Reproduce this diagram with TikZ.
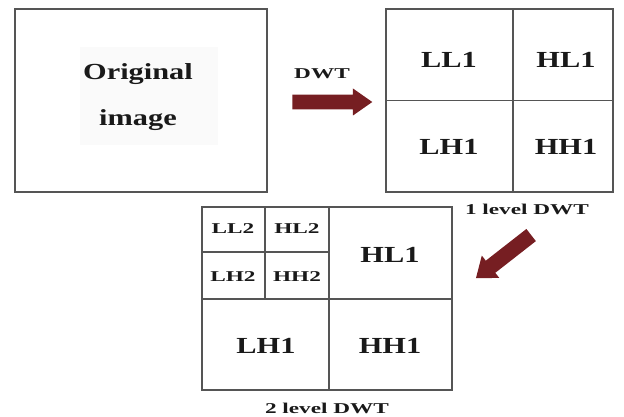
\documentclass[tikz,border=0pt]{standalone}
\usepackage{fontspec}
\setmainfont{Liberation Serif}
\newfontfamily\bigfam[FakeStretch=1.32]{Liberation Serif}
\newfontfamily\smallfam[FakeStretch=1.55]{Liberation Serif}
\usetikzlibrary{shapes.arrows}
\definecolor{maroon}{RGB}{118,30,34}
\definecolor{edge}{RGB}{85,85,85}
\tikzset{
  box/.style={draw=edge, line width=1.4pt, inner sep=0pt},
  grid/.style={draw=edge, line width=1.4pt},
  biglab/.style={font=\bigfam\bfseries\fontsize{23}{25}\selectfont, text=black!90, inner sep=0pt},
  smalllab/.style={font=\smallfam\bfseries\fontsize{15}{17}\selectfont, text=black!90, inner sep=0pt},
  blockarrow/.style={single arrow, fill=maroon, draw=none, single arrow head indent=0pt},
}
\begin{document}
\begin{tikzpicture}[x=1pt,y=-1pt]
\useasboundingbox (0,0) rectangle (624,417);
% original image
\node[box, minimum width=252pt, minimum height=183pt] (orig) at (141,100.5) {};
\node[fill=black!2, minimum width=138pt, minimum height=98pt, inner sep=0pt] (origbg) at (149,96) {};
\node[biglab] (origA) at (138,74) {Original};
\node[biglab] (origB) at (138,120) {image};
% DWT arrow
\node[smalllab] (dwt) at (322,74) {DWT};
\node[blockarrow, minimum height=80pt, minimum width=27pt, inner sep=7pt,
      single arrow head extend=6pt, single arrow tip angle=70] (arr1) at (327,102) {};
% 1 level DWT
\node[box, minimum width=227pt, minimum height=183pt] (one) at (499.5,100.5) {};
\coordinate (oneV) at (513,0);
\draw[grid] (one.north -| oneV) -- (one.south -| oneV);
\draw[grid] (one.west) -- (one.east);
\node[biglab] (LLa) at (449,60) {LL1};
\node[biglab] (HLa) at (566,60) {HL1};
\node[biglab] (LHa) at (449,147) {LH1};
\node[biglab] (HHa) at (566,147) {HH1};
\node[smalllab] (onelab) at (527,209) {1 level DWT};
% diagonal arrow
\node[blockarrow, rotate=218, minimum height=70pt, minimum width=28pt, inner sep=7.5pt,
      single arrow head extend=6.5pt, single arrow tip angle=75] (arr2) at (507.5,253.5) {};
% 2 level DWT
\node[box, minimum width=250pt, minimum height=183pt] (two) at (327,298.5) {};
\coordinate (twoV) at (329,0);
\coordinate (twoH) at (0,299);
\coordinate (inV) at (265,0);
\coordinate (inH) at (0,252);
\draw[grid] (two.north -| twoV) -- (two.south -| twoV);
\draw[grid] (two.west |- twoH) -- (two.east |- twoH);
\draw[grid] (two.north -| inV) -- (twoH -| inV);
\draw[grid] (two.west |- inH) -- (twoV |- inH);
\node[smalllab] (LLb) at (233,229) {LL2};
\node[smalllab] (HLb) at (297,229) {HL2};
\node[smalllab] (LHb) at (233,277) {LH2};
\node[smalllab] (HHb) at (297,277) {HH2};
\node[biglab] (HLc) at (390,255) {HL1};
\node[biglab] (LHc) at (266,346) {LH1};
\node[biglab] (HHc) at (390,346) {HH1};
\node[smalllab] (twolab) at (327,408) {2 level DWT};
\end{tikzpicture}
\end{document}
